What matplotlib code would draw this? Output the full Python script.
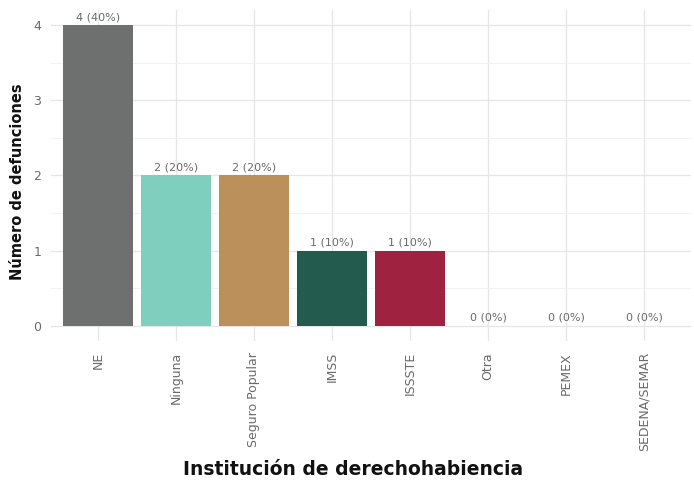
import matplotlib
matplotlib.use("Agg")
import matplotlib.pyplot as plt
from matplotlib.ticker import MultipleLocator

categories = ["NE", "Ninguna", "Seguro Popular", "IMSS", "ISSSTE", "Otra", "PEMEX", "SEDENA/SEMAR"]
values = [4, 2, 2, 1, 1, 0, 0, 0]
labels = ["4 (40%)", "2 (20%)", "2 (20%)", "1 (10%)", "1 (10%)", "0 (0%)", "0 (0%)", "0 (0%)"]
colors = ["#6d706e", "#7fcfbf", "#bc905a", "#235b4e", "#9f2241", "#cccccc", "#cccccc", "#cccccc"]

plt.rcParams['font.family'] = ['DejaVu Sans']

fig = plt.figure(figsize=(6.94, 4.8), dpi=100)
ax = fig.add_axes([0.0735, 0.29, 0.922, 0.689])

x = list(range(len(categories)))
ax.bar(x, values, width=0.9, color=colors, zorder=3)
for xi, v, lab in zip(x, values, labels):
    ax.text(xi, v + 0.04, lab, ha="center", va="bottom", fontsize=8,
            color="#6a6a6a", zorder=4)

ax.set_xlim(-0.6, len(categories) - 0.4)
ax.set_ylim(-0.2, 4.2)
ax.yaxis.set_major_locator(MultipleLocator(1))
ax.yaxis.set_minor_locator(MultipleLocator(0.5))
ax.set_xticks(x)
ax.set_xticklabels(categories, rotation=90, fontsize=9, color="#6a6a6a")
ax.tick_params(axis="y", labelsize=9, labelcolor="#6a6a6a", length=0, which="both", pad=7)
ax.tick_params(axis="x", length=0, pad=8)

ax.grid(True, which="major", color="#e6e6e6", linewidth=0.9, zorder=0)
ax.grid(True, which="minor", axis="y", color="#f0f0f0", linewidth=0.6, zorder=0)
for s in ax.spines.values():
    s.set_visible(False)

ax.set_ylabel("Número de defunciones", fontsize=10.5, fontweight="bold", color="#111111", labelpad=6)
ax.yaxis.label.set_y(0.48)
ax.set_xlabel("Institución de derechohabiencia", fontsize=13.5, fontweight="bold", color="#111111", labelpad=6)
ax.xaxis.label.set_x(0.472)

fig.savefig("out.png", dpi=100, facecolor="white")
